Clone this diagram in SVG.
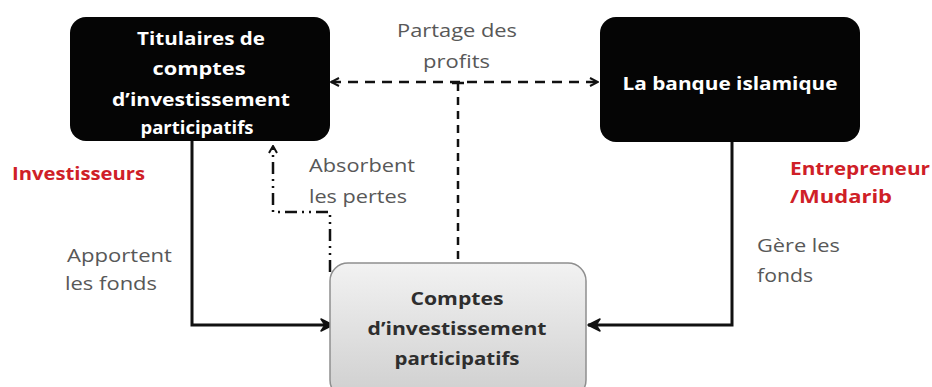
<svg xmlns="http://www.w3.org/2000/svg" width="932" height="387" viewBox="0 0 932 387">
  <defs>
    <linearGradient id="boxGrey" x1="0" y1="0" x2="0" y2="1">
      <stop offset="0" stop-color="#f2f2f2"/>
      <stop offset="1" stop-color="#cfcfcf"/>
    </linearGradient>
    <marker id="openHead" viewBox="0 0 10 10" refX="9" refY="5" markerWidth="10" markerHeight="10" markerUnits="userSpaceOnUse" orient="auto-start-reverse">
      <path d="M1,1 L9,5 L1,9" fill="none" stroke="#111" stroke-width="2"/>
    </marker>
    <marker id="solidHead" viewBox="0 0 14 14" refX="13" refY="7" markerWidth="14" markerHeight="14" markerUnits="userSpaceOnUse" orient="auto">
      <path d="M1,1 L13,7 L1,13 L5,7 z" fill="#111" stroke="#111" stroke-width="1.5" stroke-linejoin="round"/>
    </marker>
    <marker id="smallHead" viewBox="0 0 10 10" refX="5" refY="1" markerWidth="10" markerHeight="10" markerUnits="userSpaceOnUse" orient="0">
      <path d="M1,8 L5,1 L9,8" fill="none" stroke="#111" stroke-width="2"/>
    </marker>
  </defs>
  <style>
    .dark { fill: #050505; }
    .boxtxt { font-family: "Open Sans", "Liberation Sans", sans-serif; font-weight: bold; font-size: 18px; fill: #ffffff; text-anchor: middle; }
    .midtxt { font-family: "Open Sans", "Liberation Sans", sans-serif; font-weight: bold; font-size: 18px; fill: #2e2e2e; text-anchor: middle; }
    .label { font-family: "Open Sans", "Liberation Sans", sans-serif; font-size: 18px; fill: #585858; }
    .role { font-family: "Open Sans", "Liberation Sans", sans-serif; font-weight: bold; font-size: 17px; fill: #cf2027; }
    .conn { fill: none; stroke: #111; }
  </style>

  <rect width="932" height="387" fill="#ffffff"/>

  <g id="connectors">
    <!-- profit sharing: dashed two-way arrow between the holders and the bank -->
    <line class="conn" x1="331" y1="82" x2="598" y2="82" stroke-width="2.5" stroke-dasharray="10 7" marker-start="url(#openHead)" marker-end="url(#openHead)"/>
    <line class="conn" x1="452" y1="83" x2="464" y2="83" stroke-width="2.5"/>
    <line class="conn" x1="458" y1="83" x2="458" y2="263" stroke-width="2.5" stroke-dasharray="8 6"/>
    <!-- funds provided by the investors -->
    <polyline class="conn" points="192,140 192,325 333,325" stroke-width="3" marker-end="url(#solidHead)"/>
    <!-- funds managed by the bank -->
    <polyline class="conn" points="732,142 732,325 588,325" stroke-width="3" marker-end="url(#solidHead)"/>
    <!-- losses absorbed by the holders -->
    <polyline class="conn" points="330,272 330,212 273,212 273,146" stroke-width="2.5" stroke-dasharray="12 5 2 5 2 5" marker-end="url(#smallHead)"/>
  </g>

  <g id="titulaires">
    <rect class="dark" x="70" y="17" width="260" height="124" rx="16" ry="16"/>
    <text class="boxtxt" x="201" y="45" textLength="128" lengthAdjust="spacingAndGlyphs">Titulaires de</text>
    <text class="boxtxt" x="199" y="75" textLength="93" lengthAdjust="spacingAndGlyphs">comptes</text>
    <text class="boxtxt" x="201" y="106" textLength="178" lengthAdjust="spacingAndGlyphs">d’investissement</text>
    <text class="boxtxt" x="197" y="134" font-size="15" textLength="113" lengthAdjust="spacingAndGlyphs">participatifs</text>
  </g>

  <g id="banque">
    <rect class="dark" x="600" y="17" width="260" height="125" rx="16" ry="16"/>
    <text class="boxtxt" x="730" y="90" textLength="215" lengthAdjust="spacingAndGlyphs">La banque islamique</text>
  </g>

  <g id="comptes">
    <rect x="330" y="263" width="256" height="135" rx="18" ry="18" fill="url(#boxGrey)" stroke="#8e8e8e" stroke-width="1.5"/>
    <text class="midtxt" x="457" y="305" textLength="93" lengthAdjust="spacingAndGlyphs">Comptes</text>
    <text class="midtxt" x="457" y="335" textLength="179" lengthAdjust="spacingAndGlyphs">d’investissement</text>
    <text class="midtxt" x="457" y="365" textLength="125" lengthAdjust="spacingAndGlyphs">participatifs</text>
  </g>

  <g id="labels">
    <text class="label" x="397" y="37" textLength="120" lengthAdjust="spacingAndGlyphs">Partage des</text>
    <text class="label" x="423" y="68" textLength="67" lengthAdjust="spacingAndGlyphs">profits</text>
    <text class="label" x="309" y="172" textLength="106" lengthAdjust="spacingAndGlyphs">Absorbent</text>
    <text class="label" x="309" y="203" textLength="98" lengthAdjust="spacingAndGlyphs">les pertes</text>
    <text class="label" x="67" y="262" textLength="105" lengthAdjust="spacingAndGlyphs">Apportent</text>
    <text class="label" x="65" y="290" textLength="92" lengthAdjust="spacingAndGlyphs">les fonds</text>
    <text class="label" x="757" y="252" textLength="83" lengthAdjust="spacingAndGlyphs">Gère les</text>
    <text class="label" x="757" y="282" textLength="56" lengthAdjust="spacingAndGlyphs">fonds</text>
    <text class="role" x="12" y="180" textLength="133" lengthAdjust="spacingAndGlyphs">Investisseurs</text>
    <text class="role" x="790" y="175" textLength="140" lengthAdjust="spacingAndGlyphs">Entrepreneur</text>
    <text class="role" x="790" y="203" textLength="102" lengthAdjust="spacingAndGlyphs">/Mudarib</text>
  </g>
</svg>
